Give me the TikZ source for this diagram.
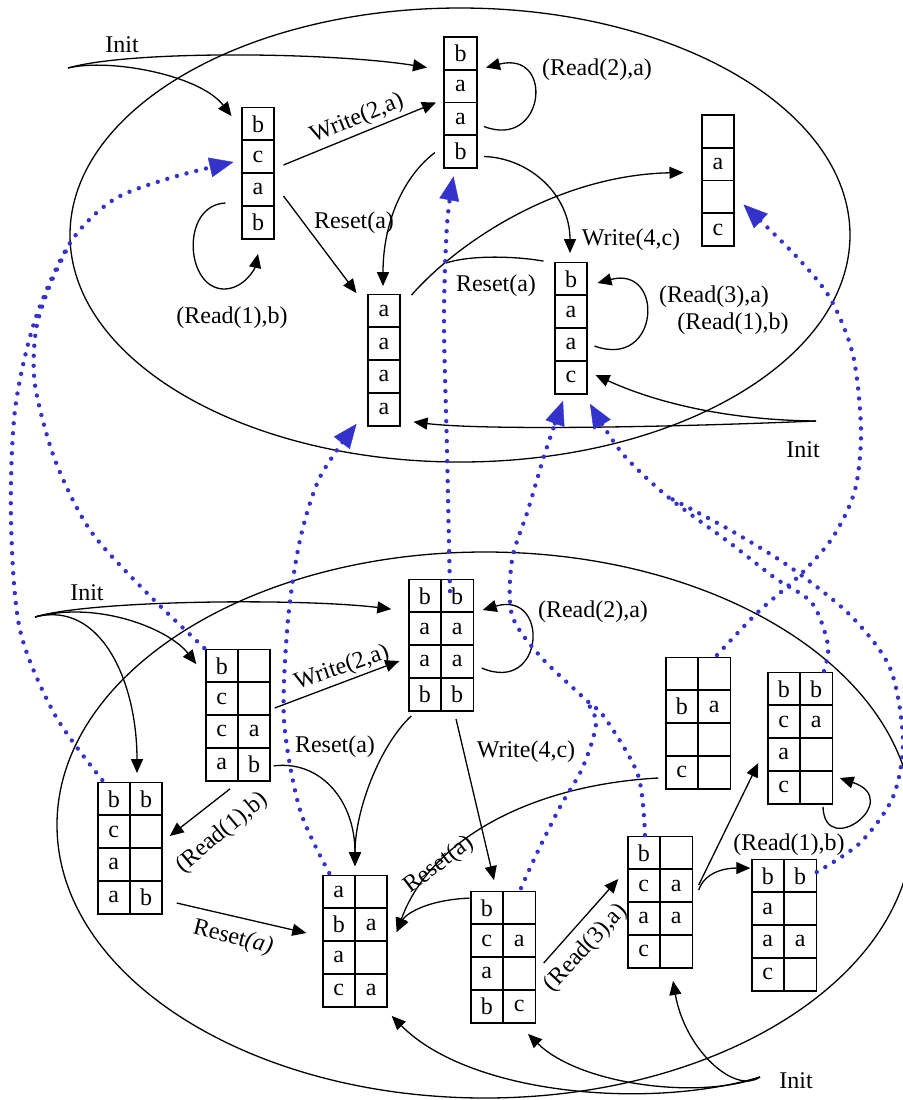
\documentclass[tikz,border=0pt]{standalone}
\usepackage{fontspec}
\setmainfont{Liberation Serif}
\usetikzlibrary{matrix,arrows.meta}
\definecolor{dotblue}{RGB}{51,51,204}
\tikzset{
  regbox/.style={matrix of nodes, nodes in empty cells, inner sep=0pt,
    row sep=-0.9pt, column sep=-0.9pt,
    nodes={draw, line width=0.9pt, minimum width=16.2pt, minimum height=16.4pt,
      inner sep=0pt, anchor=center}},
  move/.style={line width=0.65pt, ->},
  proj/.style={dotblue, line width=2.2pt, line cap=round, dash pattern=on 0pt off 5pt,
    -{Triangle[length=12pt,width=10pt,line width=0.2pt]}},
  projtrail/.style={dotblue, line width=2.2pt, line cap=round, dash pattern=on 0pt off 5pt}
}
\begin{document}
\begin{tikzpicture}[x=0.5pt, y=-0.5pt, >={Triangle[length=7pt,width=6pt]},
    font=\fontsize{12pt}{14pt}\selectfont]
  \useasboundingbox (0,0) rectangle (903,1100);

  % upper automaton
  \draw[line width=0.65pt] (460,235) ellipse (390 and 227);
  \matrix (t1) [regbox] at (258,173) {b\\c\\a\\b\\};
  \matrix (t2) [regbox] at (460.5,102.5) {b\\a\\a\\b\\};
  \matrix (t3) [regbox] at (718,180.5) {{}\\a\\{}\\c\\};
  \matrix (t4) [regbox] at (384,360) {a\\a\\a\\a\\};
  \matrix (t5) [regbox] at (571,328) {b\\a\\a\\c\\};

  \coordinate (in1) at (68,68);
  \coordinate (in2) at (816,421);
  \coordinate (rsmerge) at (446,263);
  \node (lbinit1) at (122,45) {Init};
  \node (lbinit2) at (803,450) {Init};

  \draw[move] (in1) .. controls (130,50) and (330,52) .. ([shift={(-16,-35)}]t2.west);
  \draw[move] (in1) .. controls (110,58) and (200,75) .. ([shift={(-9,10)}]t1.north west);
  \draw[move] ([shift={(8,-8)}]t1.east) -- ([shift={(-7,0)}]t2.west);
  \draw[move] ([shift={(8,23)}]t1.east) -- ([shift={(-10,0)}]t4.north west);
  \draw[move] ([shift={(-15,30)}]t1.west) .. controls (180,205) and (185,290) .. (225,289)
    .. controls (245,288) and (255,268) .. ([shift={(0,14)}]t1.south);
  \draw[move] ([shift={(-8,50)}]t2.west) .. controls (405,175) and (383,220) .. ([shift={(-1,-7)}]t4.north);
  \draw[move] ([shift={(6,24)}]t2.east) .. controls (545,150) and (555,50) .. ([shift={(8,-35)}]t2.east);
  \draw[move] ([shift={(6,54)}]t2.east) .. controls (530,158) and (570,195) .. ([shift={(-1,-8)}]t5.north);
  \draw[move] ([shift={(10,2)}]t4.north east) .. controls (460,240) and (560,175) .. ([shift={(-17,-8)}]t3.west);
  \draw[line width=0.65pt] ([shift={(-10,0)}]t5.north west) .. controls (515,256) and (470,255) .. (rsmerge);
  \draw[move] ([shift={(6,18)}]t5.east) .. controls (660,370) and (665,265) .. ([shift={(9,-45)}]t5.east);
  \draw[move] (in2) .. controls (720,420) and (650,400) .. ([shift={(7,47)}]t5.east);
  \draw[move] (in2) .. controls (650,428) and (480,430) .. ([shift={(12,-5)}]t4.south east);

  \node[rotate=22] (lbwr1) at (357,119) {Write(2,a)};
  \node (lbrs1) at (354,223) {Reset(a)};
  \node (lbrd1) at (232,318) {(Read(1),b)};
  \node (lbrd2) at (597,70) {(Read(2),a)};
  \node (lbwr4) at (631,240) {Write(4,c)};
  \node (lbrs2) at (496,286) {Reset(a)};
  \node (lbrd3) at (714,297) {(Read(3),a)};
  \node (lbrd4) at (733,324) {(Read(1),b)};

  % lower automaton
  \draw[line width=0.65pt] (485,825) ellipse (428 and 273);
  \matrix (b1) [regbox] at (238,715) {b & \\ c & \\ c & a\\ a & b\\};
  \matrix (b2) [regbox] at (441,645) {b & b\\ a & a\\ a & a\\ b & b\\};
  \matrix (b3) [regbox] at (130,848) {b & b\\ c & \\ a & \\ a & b\\};
  \matrix (b4) [regbox] at (355,941) {a & \\ b & a\\ a & \\ c & a\\};
  \matrix (b5) [regbox] at (503,957) {b & \\ c & a\\ a & \\ b & c\\};
  \matrix (b6) [regbox] at (698,723) { & \\ b & a\\ & \\ c & \\};
  \matrix (b7) [regbox] at (800,738) {b & b\\ c & a\\ a & \\ c & \\};
  \matrix (b8) [regbox] at (660,902) {b & \\ c & a\\ a & a\\ c & \\};
  \matrix (b9) [regbox] at (784,925) {b & b\\ a & \\ a & a\\ c & \\};

  \coordinate (in3) at (35,617);
  \coordinate (in4) at (760,1077);
  \node (lbinit3) at (87,593) {Init};
  \node (lbinit4) at (796,1081) {Init};

  \draw[move] (in3) .. controls (90,600) and (300,598) .. ([shift={(-16,31)}]b2.north west);
  \draw[move] (in3) .. controls (100,600) and (170,630) .. ([shift={(-8,16)}]b1.north west);
  \draw[move] (in3) .. controls (100,600) and (137,680) .. ([shift={(7,-8)}]b3.north);
  \draw[move] ([shift={(3,-7)}]b1.east) -- ([shift={(-8,16)}]b2.west);
  \draw[move] ([shift={(2,-16)}]b1.south east) .. controls (320,760) and (355,800) .. ([shift={(0,-8)}]b4.north);
  \draw[move] ([shift={(4,4)}]b2.south west) .. controls (380,745) and (355,810) .. ([shift={(0,-8)}]b4.north);
  \draw[move] ([shift={(-8,7)}]b1.south) -- ([shift={(6,-12)}]b3.east);
  \draw[move] ([shift={(13,55)}]b3.east) -- ([shift={(-15,-8)}]b4.west);
  \draw[move] ([shift={(15,7)}]b2.south) -- ([shift={(-9,-10)}]b5.north);
  \draw[move] ([shift={(-6,55)}]b6.west) .. controls (530,785) and (430,840) .. ([shift={(8,-9)}]b4.east);
  \draw[move] ([shift={(0,8)}]b5.north west) .. controls (425,900) and (405,915) .. ([shift={(8,-9)}]b4.east);
  \draw[move] ([shift={(7,6)}]b5.east) -- ([shift={(-8,-23)}]b8.west);
  \draw[move] ([shift={(5,-17)}]b8.east) -- ([shift={(-8,25)}]b7.west);
  \draw[move] ([shift={(5,-12)}]b8.east) .. controls (705,872) and (725,868) .. ([shift={(0,10)}]b9.north west);
  \draw[move] ([shift={(23,2)}]b7.south) .. controls (825,860) and (905,800) .. ([shift={(6,40)}]b7.east);
  \draw[move] ([shift={(7,23)}]b2.east) .. controls (545,695) and (550,590) .. ([shift={(8,-35)}]b2.east);
  \draw[move] (in4) .. controls (735,1095) and (685,1050) .. ([shift={(13,12)}]b8.south);
  \draw[move] (in4) .. controls (700,1100) and (580,1085) .. ([shift={(25,10)}]b5.south);
  \draw[move] (in4) .. controls (650,1110) and (470,1095) .. ([shift={(3,8)}]b4.south east);

  \node[rotate=19] (lbwr2) at (342,668) {Write(2,a)};
  \node (lbrs3) at (335,747) {Reset(a)};
  \node[rotate=40] (lbrd5) at (222,833) {(Read(1),b)};
  \node[rotate=-14] (lbrs4) at (233,938) {Reset\textit{(a)}};
  \node[rotate=37] (lbrs5) at (439,865) {Reset(a)};
  \node (lbwr5) at (526,752) {Write(4,c)};
  \node (lbrd6) at (593,612) {(Read(2),a)};
  \node[rotate=47] (lbrd7) at (586,948) {(Read(3),a)};
  \node (lbrd8) at (789,845) {(Read(1),b)};

  % dotted links from the lower states to the upper ones
  \coordinate (jn1) at (70,243);
  \coordinate (jn2) at (585,699);
  \coordinate (jn3) at (668,497);
  \draw[proj] plot[smooth] coordinates {([shift={(6,-1)}]b3.north west) (55,715) (20,630) (11,520)
    (15,410) (35,320) (jn1) (113,200) (170,178) ([shift={(-7,-11)}]t1.west)};
  \draw[projtrail] plot[smooth] coordinates {(b1.north west) (144,590) (90,530) (55,460) (35,385)
    (36,330) (50,285) (jn1)};
  \draw[proj] plot[smooth] coordinates {([shift={(9,13)}]b2.north) (447,450) (444,320) (447,225)
    ([shift={(-7,7)}]t2.south)};
  \draw[proj] plot[smooth] coordinates {([shift={(8,-1)}]b4.north west) (300,810) (284,720) (288,620)
    (300,540) (320,477) ([shift={(-10,-3)}]t4.south west)};
  \draw[proj] plot[smooth] coordinates {([shift={(-15,0)}]b8.north) (638,775) (605,718) (jn2) (540,656)
    (512,615) (512,560) (528,510) (545,453) ([shift={(-8,6)}]t5.south)};
  \draw[projtrail] plot[smooth] coordinates {([shift={(18,-2)}]b5.north) (537,853) (560,807) (580,773)
    (591,745) (596,720) (jn2)};
  \draw[proj] plot[smooth] coordinates {([shift={(24,0)}]b7.north) (828,645) (812,603) (775,578)
    (730,543) (jn3) (622,453) ([shift={(19,9)}]t5.south)};
  \draw[projtrail] plot[smooth] coordinates {([shift={(-1,14)}]b9.north east) (860,843) (893,797)
    (903,740) (890,668) (850,615) (790,567) (730,530) (jn3)};
  \draw[proj] plot[smooth] coordinates {([shift={(19,-1)}]b6.north) (757,613) (800,575) (833,537)
    (855,490) (861,430) (853,355) (830,298) (795,255) ([shift={(8,24)}]t3.east)};
\end{tikzpicture}
\end{document}
